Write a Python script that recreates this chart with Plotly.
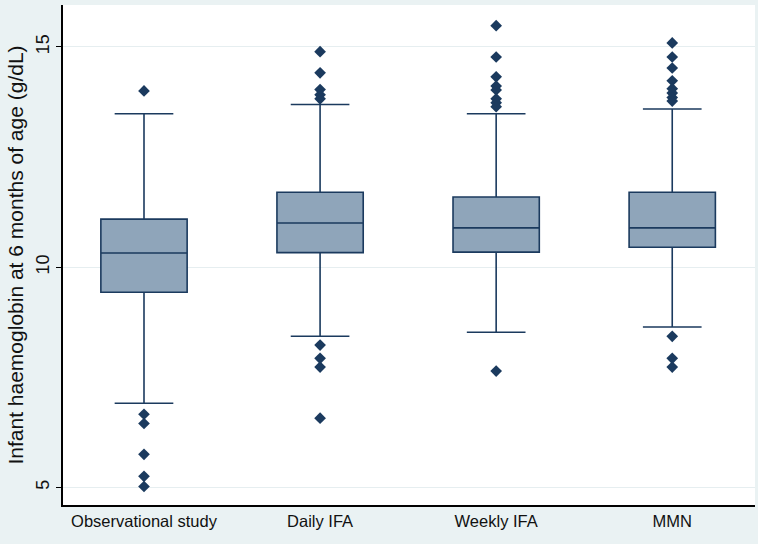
import plotly.graph_objects as go

groups = ["Observational study", "Daily IFA", "Weekly IFA", "MMN"]
q1 = [9.43, 10.33, 10.34, 10.45]
median = [10.32, 11.0, 10.89, 10.89]
q3 = [11.09, 11.70, 11.59, 11.70]
lower_whisker = [6.91, 8.43, 8.52, 8.64]
upper_whisker = [13.48, 13.69, 13.48, 13.59]

outliers = {
    "Observational study": [14.0, 6.66, 6.45, 5.75, 5.25, 5.02],
    "Daily IFA": [14.89, 14.41, 14.03, 13.91, 13.82, 8.23, 7.93, 7.73, 6.57],
    "Weekly IFA": [15.48, 14.77, 14.32, 14.11, 14.02, 13.82, 13.73, 13.64, 7.64],
    "MMN": [15.09, 14.77, 14.52, 14.23, 14.05, 13.95, 13.85, 13.77, 8.43, 7.93, 7.73],
}

navy = "#1b3a5e"
fill = "#8fa5ba"
font = "Liberation Sans"

fig = go.Figure()

fig.add_trace(go.Box(
    x=groups, q1=q1, median=median, q3=q3,
    lowerfence=lower_whisker, upperfence=upper_whisker,
    boxpoints=False, width=0.49, whiskerwidth=0.68,
    fillcolor=fill, line=dict(color=navy, width=1.6),
))

# outside values drawn as diamonds
ox, oy = [], []
for g in groups:
    for v in outliers[g]:
        ox.append(g)
        oy.append(v)

fig.add_trace(go.Scatter(
    x=ox, y=oy, mode="markers",
    marker=dict(symbol="diamond", size=9, color=navy),
))

fig.update_layout(
    width=758, height=544,
    margin=dict(l=63, r=3, t=5, b=39, autoexpand=False),
    paper_bgcolor="#eaf2f3",
    plot_bgcolor="white",
    showlegend=False,
    font=dict(family=font, size=17, color="#111111"),
    xaxis=dict(
        range=[-0.46, 3.47], showline=True, linecolor="black", linewidth=1.5,
        ticks="", showgrid=False, tickfont=dict(size=16.5),
    ),
    yaxis=dict(
        range=[4.6, 15.95], tickvals=[5, 10, 15], ticks="outside", ticklen=5,
        tickcolor="black", tickangle=-90, showline=True, linecolor="black",
        linewidth=1.5, gridcolor="#e6eef0", zeroline=False,
        tickfont=dict(size=18),
        title=dict(text="Infant haemoglobin at 6 months of age (g/dL)",
                   standoff=4, font=dict(size=21)),
    ),
)

fig.write_html("out.html", config={"displayModeBar": False},
               post_script="document.body.style.margin='0px';")
